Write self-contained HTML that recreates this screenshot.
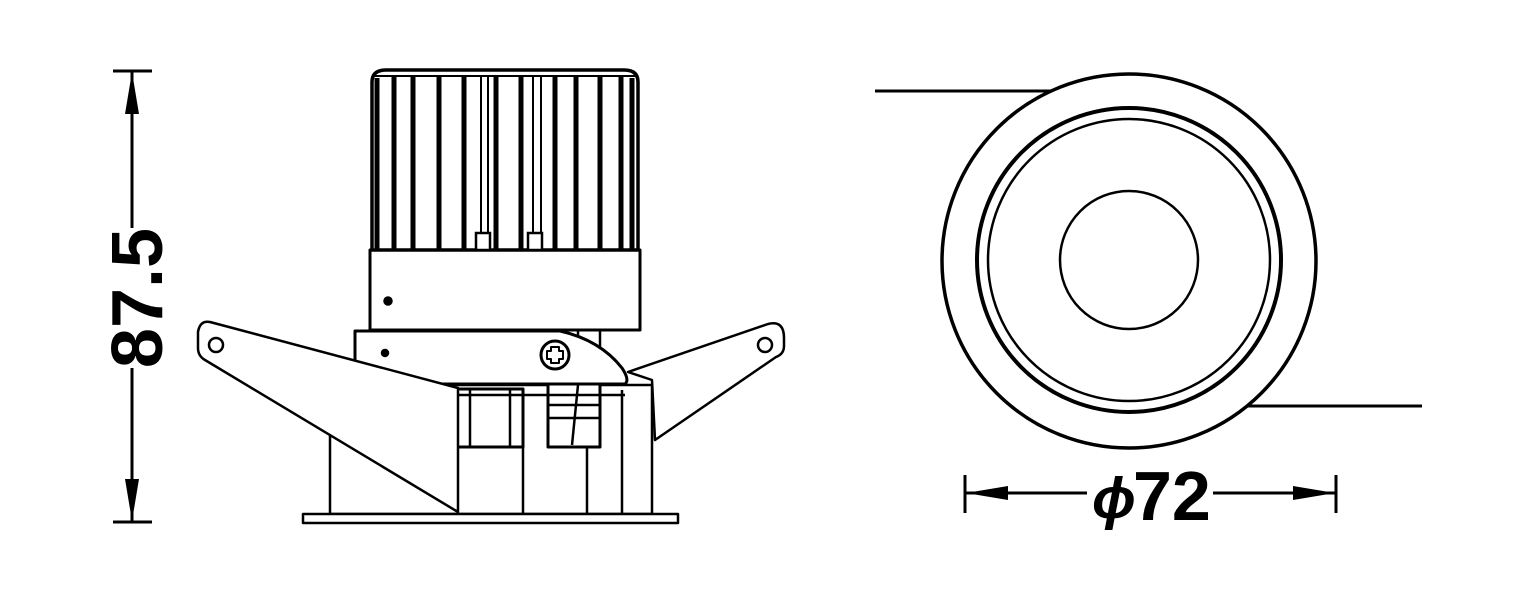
<!DOCTYPE html>
<html><head><meta charset="utf-8"><style>
html,body{margin:0;padding:0;background:#fff;}
svg{display:block;}
text{font-family:"Liberation Sans",Arial,sans-serif;font-weight:bold;fill:#000;}
</style></head><body>
<svg width="1535" height="591" viewBox="0 0 1535 591" xmlns="http://www.w3.org/2000/svg">
<g fill="none" stroke="#000" stroke-width="3" stroke-linejoin="round">
<line x1="113" y1="71" x2="152" y2="71"/>
<line x1="113" y1="522" x2="152" y2="522"/>
<line x1="132" y1="71" x2="132" y2="228"/>
<line x1="132" y1="368" x2="132" y2="522"/>
</g>
<polygon points="132,72 125,114 139,114" fill="#000"/>
<polygon points="132,521 125,479 139,479" fill="#000"/>
<text x="0" y="0" font-size="72" text-anchor="middle" transform="translate(162,298) rotate(-90)">87.5</text>

<g fill="none" stroke="#000" stroke-width="3">
<line x1="965" y1="475" x2="965" y2="513"/>
<line x1="1336" y1="475" x2="1336" y2="513"/>
<line x1="965" y1="493" x2="1087" y2="493"/>
<line x1="1213" y1="493" x2="1336" y2="493"/>
</g>
<polygon points="966,493 1008,486 1008,500" fill="#000"/>
<polygon points="1335,493 1293,486 1293,500" fill="#000"/>
<text x="1092" y="518" font-size="58" font-style="italic" font-weight="normal">ϕ</text>
<text x="1133" y="520" font-size="70">72</text>

<g fill="none" stroke="#000">
<line x1="875" y1="91" x2="1053" y2="91" stroke-width="3"/>
<line x1="1245" y1="406" x2="1422" y2="406" stroke-width="3"/>
<circle cx="1129" cy="261" r="187" stroke-width="3.5" fill="#fff"/>
<circle cx="1129" cy="260" r="152" stroke-width="4"/>
<circle cx="1129" cy="260" r="141" stroke-width="2.5"/>
<circle cx="1129" cy="260" r="69" stroke-width="2.5"/>
</g>

<g fill="#fff" stroke="#000" stroke-width="2.5" stroke-linejoin="round">
<rect x="330" y="385" width="322" height="129"/>
<rect x="303" y="514" width="375" height="9"/>
<path d="M628,372 L768,324 Q784,320 784,338 L784,346 Q784,354 776,357 L655,440 L652,380 Z"/>
<circle cx="765" cy="345" r="7"/>
<line x1="523" y1="447" x2="523" y2="514"/>
<line x1="587" y1="447" x2="587" y2="514"/>
<line x1="622" y1="390" x2="622" y2="514"/>
<rect x="455" y="389" width="68" height="58" stroke-width="3"/>
<rect x="548" y="383" width="52" height="64" stroke-width="3"/>
<line x1="548" y1="405" x2="600" y2="405"/>
<line x1="548" y1="418" x2="600" y2="418"/>
<line x1="578" y1="385" x2="572" y2="445"/>
<line x1="470" y1="389" x2="470" y2="447"/>
<line x1="510" y1="389" x2="510" y2="447"/>
<line x1="455" y1="395" x2="625" y2="395"/>
<line x1="578" y1="328" x2="578" y2="350"/>
<line x1="600" y1="328" x2="600" y2="360"/>
<path d="M355,331 L560,331 Q600,340 622,368 Q630,380 625,384 L410,384 L355,384 Z" stroke-width="3"/>
<circle cx="385" cy="353" r="3" fill="#000"/>
<circle cx="555" cy="355" r="14" stroke-width="3"/>
<path d="M551,347 h8 v4 h4 v8 h-4 v4 h-8 v-4 h-4 v-8 h4 z" stroke-width="2"/>
<path d="M210,322 L458,388 L458,512 L205,360 Q198,356 198,348 L198,332 Q200,320 210,322 Z"/>
<circle cx="216" cy="345" r="7"/>
<rect x="370" y="250" width="270" height="80" stroke-width="3"/>
<circle cx="388" cy="301" r="3.5" fill="#000"/>
<path d="M372,250 L372,82 Q372,70 386,70 L624,70 Q638,70 638,82 L638,250 Z" stroke-width="3.5"/>
</g>
<g stroke="#000" fill="none">
<g stroke-width="5">
<line x1="377" y1="78" x2="377" y2="250"/><line x1="394" y1="76" x2="394" y2="250"/>
<line x1="413" y1="76" x2="413" y2="250"/><line x1="439" y1="76" x2="439" y2="250"/>
<line x1="464" y1="76" x2="464" y2="250"/><line x1="496" y1="76" x2="496" y2="250"/>
<line x1="521" y1="76" x2="521" y2="250"/><line x1="555" y1="76" x2="555" y2="250"/>
<line x1="576" y1="76" x2="576" y2="250"/><line x1="600" y1="76" x2="600" y2="250"/>
<line x1="621" y1="76" x2="621" y2="250"/><line x1="632" y1="78" x2="632" y2="250"/>
</g>
<g stroke-width="2">
<line x1="481" y1="76" x2="481" y2="235"/><line x1="488" y1="76" x2="488" y2="235"/>
<line x1="533" y1="76" x2="533" y2="235"/><line x1="541" y1="76" x2="541" y2="235"/>
<line x1="374" y1="76" x2="636" y2="76"/>
</g>
<rect x="476" y="233" width="14" height="17" stroke-width="2.5" fill="#fff"/>
<rect x="528" y="233" width="14" height="17" stroke-width="2.5" fill="#fff"/>
</g>
</svg>
</body></html>
